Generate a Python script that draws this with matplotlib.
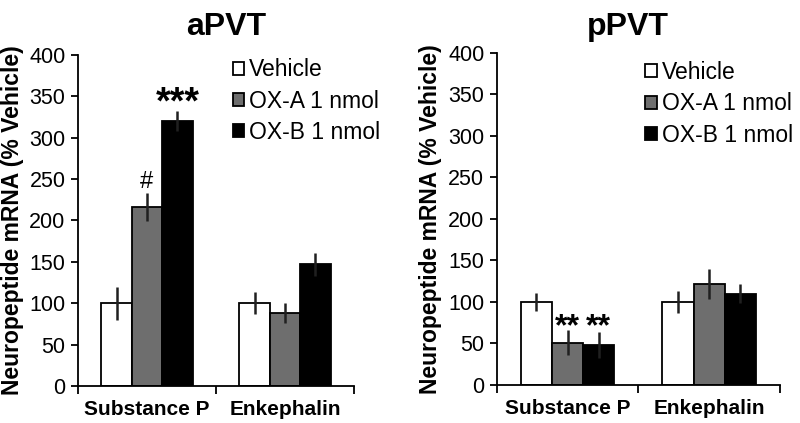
import matplotlib
matplotlib.use("Agg")
import matplotlib.pyplot as plt
import numpy as np

plt.rcParams['font.family'] = ['Liberation Sans', 'DejaVu Sans']

categories = ["Substance P", "Enkephalin"]
groups = ["Vehicle", "OX-A 1 nmol", "OX-B 1 nmol"]
colors = ["white", "#6e6e6e", "black"]

# aPVT
a_vals = [[100, 100], [216, 88], [320, 147]]
a_errs = [[20, 13], [17, 12], [12, 14]]
# pPVT
p_vals = [[100, 100], [51, 122], [48, 110]]
p_errs = [[11, 13], [15, 18], [16, 11]]

yticks = [0, 50, 100, 150, 200, 250, 300, 350, 400]

fig = plt.figure(figsize=(8, 4.23), dpi=100)
ax1 = fig.add_axes([0.0975, 0.0875, 0.345, 0.7825])
ax2 = fig.add_axes([0.621, 0.0898, 0.354, 0.7856])

w = 0.22
x = np.arange(len(categories))


def panel(ax, vals, errs, leg_x, leg_y):
    bars = []
    for i in range(3):
        b = ax.bar(x + (i - 1) * w, vals[i], w, color=colors[i], edgecolor="black",
                   linewidth=1.3, label=groups[i], zorder=2)
        ax.errorbar(x + (i - 1) * w, vals[i], yerr=errs[i], fmt="none",
                    ecolor="#202020", elinewidth=1.8, capsize=0, zorder=3)
        bars.append(b)
    ax.set_xlim(-0.5, 1.5)
    ax.set_ylim(0, 400)
    ax.set_yticks(yticks)
    ax.tick_params(axis="y", labelsize=15.5, length=5, width=1.3, direction="out", pad=4)
    ax.set_xticks(x)
    ax.set_xticklabels(categories, fontsize=15, fontweight="bold")
    ax.tick_params(axis="x", length=0, pad=10)
    ax.set_xticks([-0.5, 0.5, 1.5], minor=True)
    ax.tick_params(axis="x", which="minor", length=6, width=1.3, direction="out")
    for s in ["top", "right"]:
        ax.spines[s].set_visible(False)
    for s in ["left", "bottom"]:
        ax.spines[s].set_linewidth(1.3)
    ax.set_ylabel("Neuropeptide mRNA (% Vehicle)", fontsize=16.5, fontweight="bold", labelpad=4)
    ax.legend(handles=bars, loc="upper left", bbox_to_anchor=(leg_x, leg_y), frameon=False,
              fontsize=16.5, handlelength=0.5, handleheight=0.5, handletextpad=0.2,
              labelspacing=0.36, borderpad=0, borderaxespad=0)


panel(ax1, a_vals, a_errs, 0.56, 0.99)
panel(ax2, p_vals, p_errs, 0.525, 0.975)

# significance marks
ax1.text(x[0], 247, "#", ha="center", va="center", fontsize=17)
ax1.text(x[0] + w, 342, "***", ha="center", va="center", fontsize=27, fontweight="bold")
ax2.text(x[0], 70, "**", ha="center", va="center", fontsize=23, fontweight="bold")
ax2.text(x[0] + w, 70, "**", ha="center", va="center", fontsize=23, fontweight="bold")

fig.text(0.2825, 0.935, "aPVT", ha="center", va="center", fontsize=23, fontweight="bold")
fig.text(0.785, 0.935, "pPVT", ha="center", va="center", fontsize=23, fontweight="bold")

fig.savefig("out.png", dpi=100)
